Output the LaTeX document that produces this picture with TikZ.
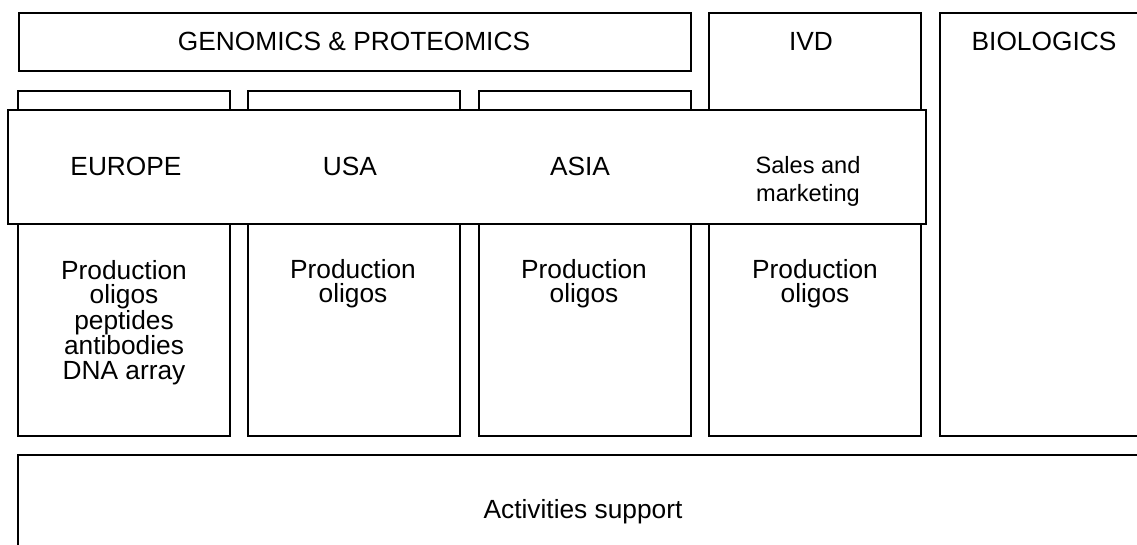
\documentclass[tikz,border=0pt]{standalone}
\usepackage{fontspec}
\setmainfont{Liberation Sans}
\begin{document}
\begin{tikzpicture}[x=1pt,y=-1pt,
  box/.style={draw=black, line width=2pt, fill=white, inner sep=0pt, anchor=north west},
  txt/.style={font=\fontsize{26.3}{24.5}\selectfont, align=center, inner sep=0pt},
  small/.style={font=\fontsize{23.6}{28}\selectfont, align=center, inner sep=0pt}]
\useasboundingbox (0,0) rectangle (1137,544);
\clip (0,0) rectangle (1137,544);
% top boxes
\node[box, minimum width=672pt, minimum height=58pt] (gen) at (18,12) {};
\node[box, minimum width=212pt, minimum height=423pt] (ivd) at (708,12) {};
\node[box, minimum width=230pt, minimum height=423pt] (bio) at (939,12) {};
% columns
\node[box, minimum width=212pt, minimum height=345pt] (eu) at (17,90) {};
\node[box, minimum width=212pt, minimum height=345pt] (us) at (247,90) {};
\node[box, minimum width=212pt, minimum height=345pt] (as) at (478,90) {};
% band
\node[box, minimum width=918pt, minimum height=114pt] (band) at (7,109) {};
% bottom
\node[box, minimum width=1150pt, minimum height=120pt] (sup) at (17,454) {};
% texts
\node[txt] (tgen) at (354,41) {GENOMICS \& PROTEOMICS};
\node[txt] (tivd) at (811,41) {IVD};
\node[txt] (tbio) at (1044,41) {BIOLOGICS};
\node[txt] (teu) at (126,166) {EUROPE};
\node[txt] (tus) at (350,166) {USA};
\node[txt] (tas) at (580,166) {ASIA};
\node[small] (tsm) at (808,181) {Sales and\\marketing};
\node[txt, anchor=north] (peu) at (124,260) {Production\\oligos\\peptides\\antibodies\\DNA array};
\node[txt, anchor=north] (pus) at (353,259) {Production\\oligos};
\node[txt, anchor=north] (pas) at (584,259) {Production\\oligos};
\node[txt, anchor=north] (pivd) at (815,259) {Production\\oligos};
\node[txt] (tsup) at (583,512) {Activities support};
\end{tikzpicture}
\end{document}
